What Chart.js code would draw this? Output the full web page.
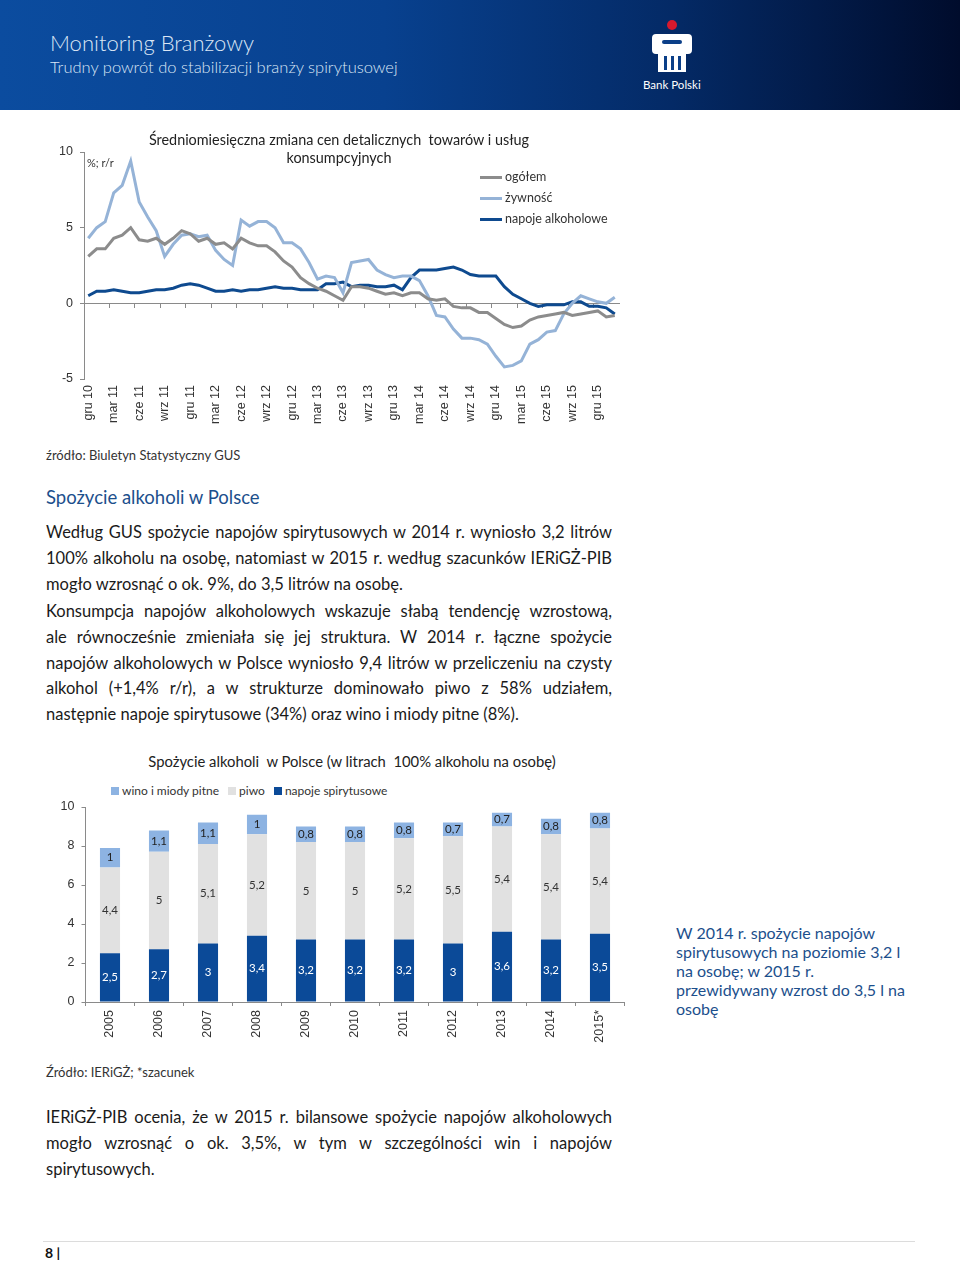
<!DOCTYPE html>
<html lang="pl">
<head>
<meta charset="utf-8">
<title>Monitoring Branżowy</title>
<script src="https://cdn.jsdelivr.net/npm/chart.js@4.4.1/dist/chart.umd.min.js"></script>
<style>
  body { margin:0; width:960px; height:1263px; position:relative; overflow:hidden; background:#fff;
         font-family: Lato, "Noto Sans", sans-serif; color:#1a1a1a; }
  .abs { position:absolute; white-space:nowrap; }
  #naglowek { position:absolute; left:0; top:0; width:960px; height:110px;
              background: linear-gradient(90deg, #0b4c9f 0%, #08418f 40%, #042a66 70%, #000c2c 100%); }
  #naglowek .t1 { left:50px; top:29px; font-size:22px; color:#dbe6f5; font-weight:300; }
  #naglowek .t2 { left:50px; top:57px; font-size:16.5px; color:#dbe6f5; font-weight:300; }
  #naglowek .bank { left:643px; top:78px; font-size:11.5px; color:#fff; }
  .tytul { font-size:14.4px; color:#222; text-align:center; }
  .legenda { font-size:12.5px; color:#333; }
  .linia { display:inline-block; width:22px; height:3px; vertical-align:middle; margin-right:3px; }
  .kwadrat { display:inline-block; width:8px; height:8px; margin-right:3px; vertical-align:0px; }
  .zrodlo { font-size:13px; color:#333; }
  .tekst div { width:566px; text-align:justify; text-align-last:justify; height:25.8px; line-height:25.8px; white-space:nowrap; }
  .tekst div.ost { text-align-last:left; }
  .tekst { font-size:16.5px; color:#1a1a1a; }
  canvas { position:absolute; }
</style>
</head>
<body>

<div id="naglowek">
  <div class="abs t1">Monitoring Branżowy</div>
  <div class="abs t2">Trudny powrót do stabilizacji branży spirytusowej</div>
  <svg class="abs" style="left:650px;top:18px" width="44" height="58" viewBox="0 0 44 58">
    <circle cx="22" cy="7" r="5" fill="#d7192d"/>
    <path d="M6 16 h32 a4 4 0 0 1 4 4 v12 a4 4 0 0 1 -4 4 h-2 v18 h-28 v-18 h-2 a4 4 0 0 1 -4 -4 v-12 a4 4 0 0 1 4 -4z" fill="#fff"/>
    <rect x="12" y="22" width="20" height="4" rx="2" fill="#0b3f88"/>
    <rect x="14" y="38" width="3" height="14" fill="#0b3f88"/>
    <rect x="21" y="38" width="3" height="14" fill="#0b3f88"/>
    <rect x="28" y="38" width="3" height="14" fill="#0b3f88"/>
  </svg>
  <div class="abs bank">Bank Polski</div>
</div>

<!-- wykres liniowy -->
<canvas id="wykres-ceny" width="600" height="320" style="left:40px;top:120px"></canvas>
<div class="abs tytul" style="left:139px;top:131px;width:400px;line-height:18px">Średniomiesięczna zmiana cen detalicznych&nbsp; towarów i usług<br>konsumpcyjnych</div>
<div class="abs" style="left:87px;top:156px;font-size:11px;color:#333">%; r/r</div>
<div class="abs legenda" style="left:480px;top:166px;line-height:21px">
  <div><span class="linia" style="background:#8c8c8c"></span>ogółem</div>
  <div><span class="linia" style="background:#95b3d7"></span>żywność</div>
  <div><span class="linia" style="background:#0e4a8f"></span>napoje alkoholowe</div>
</div>

<div class="abs zrodlo" style="left:46px;top:447px">źródło: Biuletyn Statystyczny GUS</div>
<div class="abs" style="left:46px;top:486px;font-size:18.5px;color:#1c4f8c">Spożycie alkoholi w Polsce</div>

<div class="abs tekst" style="left:46px;top:520px">
  <div>Według GUS spożycie napojów spirytusowych w 2014 r. wyniosło 3,2 litrów</div>
  <div>100% alkoholu na osobę, natomiast w 2015 r. według szacunków IERiGŻ-PIB</div>
  <div class="ost">mogło wzrosnąć o ok. 9%, do 3,5 litrów na osobę.</div>
</div>
<div class="abs tekst" style="left:46px;top:599px">
  <div>Konsumpcja napojów alkoholowych wskazuje słabą tendencję wzrostową,</div>
  <div>ale równocześnie zmieniała się jej struktura. W 2014 r. łączne spożycie</div>
  <div>napojów alkoholowych w Polsce wyniosło 9,4 litrów w przeliczeniu na czysty</div>
  <div>alkohol (+1,4% r/r), a w strukturze dominowało piwo z 58% udziałem,</div>
  <div class="ost">następnie napoje spirytusowe (34%) oraz wino i miody pitne (8%).</div>
</div>

<!-- wykres słupkowy -->
<div class="abs tytul" style="left:102px;top:752px;width:500px;font-size:14.8px">Spożycie alkoholi&nbsp; w Polsce (w litrach&nbsp; 100% alkoholu na osobę)</div>
<div class="abs legenda" style="left:111px;top:783px;font-size:12px">
  <span class="kwadrat" style="background:#8db3e2"></span>wino i miody pitne
  <span class="kwadrat" style="background:#e1e1e1;margin-left:6px"></span>piwo
  <span class="kwadrat" style="background:#0b4a98;margin-left:6px"></span>napoje spirytusowe
</div>
<canvas id="wykres-spozycie" width="600" height="285" style="left:40px;top:770px"></canvas>

<div class="abs" style="left:676px;top:923px;font-size:16px;line-height:19px;color:#1c4f8c">W 2014 r. spożycie napojów<br>spirytusowych na poziomie 3,2 l<br>na osobę; w 2015 r.<br>przewidywany wzrost do 3,5 l na<br>osobę</div>

<div class="abs zrodlo" style="left:46px;top:1064px">Źródło: IERiGŻ; *szacunek</div>
<div class="abs tekst" style="left:46px;top:1105px">
  <div>IERiGŻ-PIB ocenia, że w 2015 r. bilansowe spożycie napojów alkoholowych</div>
  <div>mogło wzrosnąć o ok. 3,5%, w tym w szczególności win i napojów</div>
  <div class="ost">spirytusowych.</div>
</div>

<div class="abs" style="left:43px;top:1241px;width:872px;height:1px;background:#dcdcdc"></div>
<div class="abs" style="left:45px;top:1244px;font-size:14px;font-weight:bold;color:#111">8 |</div>

<script>
// Kategorie: miesiące od gru 10 do lut 16
const miesiace = [
  'gru 10',
  'sty 11','lut 11','mar 11','kwi 11','maj 11','cze 11','lip 11','sie 11','wrz 11','paź 11','lis 11','gru 11',
  'sty 12','lut 12','mar 12','kwi 12','maj 12','cze 12','lip 12','sie 12','wrz 12','paź 12','lis 12','gru 12',
  'sty 13','lut 13','mar 13','kwi 13','maj 13','cze 13','lip 13','sie 13','wrz 13','paź 13','lis 13','gru 13',
  'sty 14','lut 14','mar 14','kwi 14','maj 14','cze 14','lip 14','sie 14','wrz 14','paź 14','lis 14','gru 14',
  'sty 15','lut 15','mar 15','kwi 15','maj 15','cze 15','lip 15','sie 15','wrz 15','paź 15','lis 15','gru 15',
  'sty 16','lut 16'
];

/** Serie: % r/r */
const ogolem = [
  3.1, 3.6, 3.6, 4.3, 4.5, 5.0, 4.2, 4.1, 4.3, 3.9, 4.3, 4.8, 4.6,
  4.1, 4.3, 3.9, 4.0, 3.6, 4.3, 4.0, 3.8, 3.8, 3.4, 2.8, 2.4,
  1.7, 1.3, 1.0, 0.8, 0.5, 0.2, 1.1, 1.1, 1.0, 0.8, 0.6, 0.7,
  0.5, 0.7, 0.7, 0.3, 0.2, 0.3, -0.2, -0.3, -0.3, -0.6, -0.6, -1.0,
  -1.4, -1.6, -1.5, -1.1, -0.9, -0.8, -0.7, -0.6, -0.8, -0.7, -0.6, -0.5,
  -0.9, -0.8
];
const zywnosc = [
  4.3, 5.0, 5.4, 7.3, 7.8, 9.4, 6.7, 5.7, 4.8, 3.1, 3.9, 4.5, 4.6,
  4.4, 4.5, 3.5, 2.9, 2.5, 5.5, 5.1, 5.4, 5.4, 5.0, 4.0, 4.0,
  3.6, 2.7, 1.6, 1.8, 1.7, 0.7, 2.7, 2.8, 2.9, 2.2, 1.9, 1.7,
  1.8, 1.8, 1.5, 0.5, -0.8, -0.9, -1.7, -2.3, -2.3, -2.4, -2.7, -3.5,
  -4.2, -4.1, -3.8, -2.7, -2.4, -1.9, -1.8, -0.7, 0.0, 0.5, 0.3, 0.1,
  0.0, 0.4
];
const alkohol = [
  0.5, 0.8, 0.8, 0.9, 0.8, 0.7, 0.7, 0.8, 0.9, 0.9, 1.0, 1.2, 1.3,
  1.2, 1.0, 0.8, 0.8, 0.9, 0.8, 0.9, 0.9, 1.0, 1.1, 1.0, 1.0,
  0.9, 0.9, 0.9, 1.3, 1.3, 1.4, 1.1, 1.2, 1.2, 1.1, 1.1, 1.2,
  0.9, 1.7, 2.2, 2.2, 2.2, 2.3, 2.4, 2.2, 1.9, 1.8, 1.8, 1.8,
  1.1, 0.6, 0.3, 0.0, -0.2, -0.1, -0.1, -0.1, 0.1, 0.1, -0.2, -0.2,
  -0.3, -0.7
];

// Spożycie w litrach 100% alkoholu na osobę
const lata = ['2005','2006','2007','2008','2009','2010','2011','2012','2013','2014','2015*'];
const spirytusowe = [2.5, 2.7, 3, 3.4, 3.2, 3.2, 3.2, 3, 3.6, 3.2, 3.5];
const piwo = [4.4, 5, 5.1, 5.2, 5, 5, 5.2, 5.5, 5.4, 5.4, 5.4];
const wino = [1, 1.1, 1.1, 1, 0.8, 0.8, 0.8, 0.7, 0.7, 0.8, 0.8];

Chart.defaults.font.family = '"Liberation Sans", Arial, sans-serif';
Chart.defaults.color = '#404040';

const szaryOs = '#8a8a8a';

/* Wykres liniowy */
const linia = (label, data, kolor) => ({
  label, data, borderColor: kolor, backgroundColor: kolor,
  borderWidth: 3, pointRadius: 0, tension: 0, xAxisID: 'x'
});

new Chart(document.getElementById('wykres-ceny'), {
  type: 'line',
  data: {
    labels: miesiace,
    datasets: [
      linia('ogółem', ogolem, '#8c8c8c'),
      linia('żywność', zywnosc, '#95b3d7'),
      linia('napoje alkoholowe', alkohol, '#0e4a8f')
    ]
  },
  options: {
    responsive: false, animation: false, devicePixelRatio: 1,
    layout: { padding: { top: 32, right: 21, left: 0, bottom: 0 } },
    plugins: { legend: { display: false }, tooltip: { enabled: false } },
    scales: {
      x: {
        type: 'category', offset: true,
        grid: { display: false, drawTicks: false }, border: { display: false },
        ticks: {
          autoSkip: false, minRotation: 90, maxRotation: 90, padding: 6,
          font: { size: 12.5 }, color: '#333',
          callback: (v, i) => (i % 3 === 0 ? miesiace[i] : '')
        },
        afterFit: (s) => { s.height = 61; }
      },
      x2: {
        type: 'category', labels: miesiace, offset: true, position: { y: 0 },
        border: { color: szaryOs, width: 1 },
        grid: { offset: true, drawOnChartArea: false, drawTicks: true, tickLength: 4,
                color: (c) => (c.index % 3 === 0 ? szaryOs : 'rgba(0,0,0,0)') },
        ticks: { display: false, autoSkip: false }
      },
      y: {
        min: -5, max: 10,
        ticks: { stepSize: 5, padding: 7, font: { size: 12.5 }, color: '#333' },
        grid: { drawOnChartArea: false, tickLength: 4, color: szaryOs },
        border: { color: szaryOs },
        afterFit: (s) => { s.width = 44; }
      }
    }
  }
});

/* Etykiety wartości na słupkach */
const etykietySlupkow = {
  id: 'etykietySlupkow',
  afterDatasetsDraw(chart) {
    const ctx = chart.ctx;
    ctx.save();
    ctx.font = '11.5px Lato, "Noto Sans", sans-serif';
    ctx.textAlign = 'center';
    ctx.textBaseline = 'middle';
    chart.data.datasets.forEach((ds, i) => {
      chart.getDatasetMeta(i).data.forEach((bar, j) => {
        ctx.fillStyle = ds.kolorEtykiety;
        ctx.fillText(String(ds.data[j]).replace('.', ','), bar.x, (bar.y + bar.base) / 2);
      });
    });
    ctx.restore();
  }
};

const slupek = (label, data, kolor, kolorEtykiety) => ({
  label, data, backgroundColor: kolor, kolorEtykiety,
  categoryPercentage: 1, barPercentage: 0.41, borderWidth: 0
});

new Chart(document.getElementById('wykres-spozycie'), {
  type: 'bar',
  data: {
    labels: lata,
    datasets: [
      slupek('napoje spirytusowe', spirytusowe, '#0b4a98', '#ffffff'),
      slupek('piwo', piwo, '#e1e1e1', '#333333'),
      slupek('wino i miody pitne', wino, '#8db3e2', '#222222')
    ]
  },
  options: {
    responsive: false, animation: false, devicePixelRatio: 1,
    layout: { padding: { top: 37, right: 15.5, left: 0, bottom: 0 } },
    plugins: { legend: { display: false }, tooltip: { enabled: false } },
    scales: {
      x: {
        stacked: true,
        grid: { drawOnChartArea: false, offset: true, tickLength: 4, color: szaryOs },
        border: { color: szaryOs },
        ticks: { minRotation: 90, maxRotation: 90, padding: 4, font: { size: 12.5 }, color: '#333' },
        afterFit: (s) => { s.height = 53; }
      },
      y: {
        stacked: true, min: 0, max: 10,
        ticks: { stepSize: 2, padding: 7, font: { size: 12.5 }, color: '#333' },
        grid: { drawOnChartArea: false, tickLength: 4, color: szaryOs },
        border: { color: szaryOs },
        afterFit: (s) => { s.width = 45.5; }
      }
    }
  },
  plugins: [etykietySlupkow]
});
</script>
</body>
</html>
